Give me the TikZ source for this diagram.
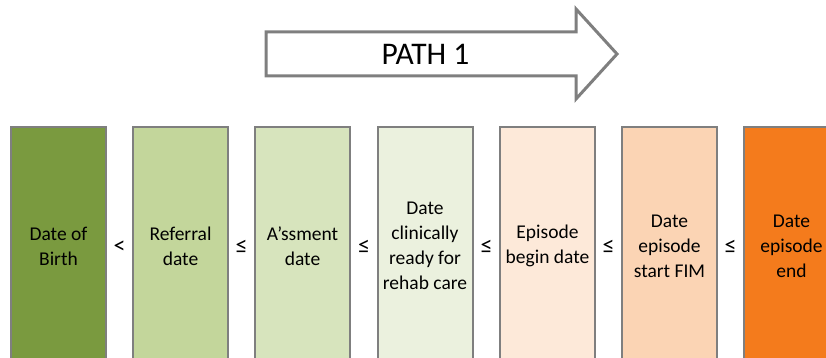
\documentclass[tikz,border=0pt]{standalone}
\usepackage{fontspec}
\setmainfont{Carlito}
\definecolor{c1}{HTML}{7A9A3F}
\definecolor{c2}{HTML}{C3D69B}
\definecolor{c3}{HTML}{D7E4BD}
\definecolor{c4}{HTML}{EBF1DE}
\definecolor{c5}{HTML}{FDE9D9}
\definecolor{c6}{HTML}{FBD4B4}
\definecolor{c7}{HTML}{F47B1C}
\definecolor{edge}{HTML}{7F7F7F}
\tikzset{
  datebox/.style={draw=edge, line width=2pt, minimum width=95pt, minimum height=238pt,
    inner sep=0pt, align=center, font=\fontsize{19.5}{25}\selectfont, text=black},
  rel/.style={inner sep=0pt, font=\fontsize{24}{25}\selectfont, text=black},
  patharrow/.style={draw=edge, line width=3pt, fill=white, line join=miter},
  pathlabel/.style={inner sep=0pt, font=\fontsize{31.5}{36}\selectfont, text=black}
}
\begin{document}
\begin{tikzpicture}[x=1pt,y=1pt]
\useasboundingbox (0,0) rectangle (826,358);
\clip (0,0) rectangle (826,358);
% arrow
\coordinate (a1) at (266,326);
\coordinate (a2) at (576,326);
\coordinate (a3) at (576,349);
\coordinate (a4) at (617,304);
\coordinate (a5) at (576,259);
\coordinate (a6) at (576,282);
\coordinate (a7) at (266,282);
\draw[patharrow] (a1) -- (a2) -- (a3) -- (a4) -- (a5) -- (a6) -- (a7) -- cycle;
\node[pathlabel] (path) at (425.5,304) {PATH 1};
% boxes
\node[datebox, fill=c1] (b1) at (58.5,112) {Date of\\Birth};
\node[datebox, fill=c2] (b2) at (180.5,112) {Referral\\date};
\node[datebox, fill=c3] (b3) at (302.5,112) {A\symbol{39}ssment\\date};
\node[datebox, fill=c4] (b4) at (425,112) {Date\\clinically\\ready for\\rehab care};
\node[datebox, fill=c5] (b5) at (547.5,112) {Episode\\begin date};
\node[datebox, fill=c6] (b6) at (669.5,112) {Date\\episode\\start FIM};
\node[datebox, fill=c7] (b7) at (791.5,112) {Date\\episode\\end};
% relations
\node[rel] (r1) at (119.5,111) {<};
\node[rel] (r2) at (241.5,111) {≤};
\node[rel] (r3) at (364,111) {≤};
\node[rel] (r4) at (486.5,111) {≤};
\node[rel] (r5) at (608.5,111) {≤};
\node[rel] (r6) at (730.5,111) {≤};
\end{tikzpicture}
\end{document}
